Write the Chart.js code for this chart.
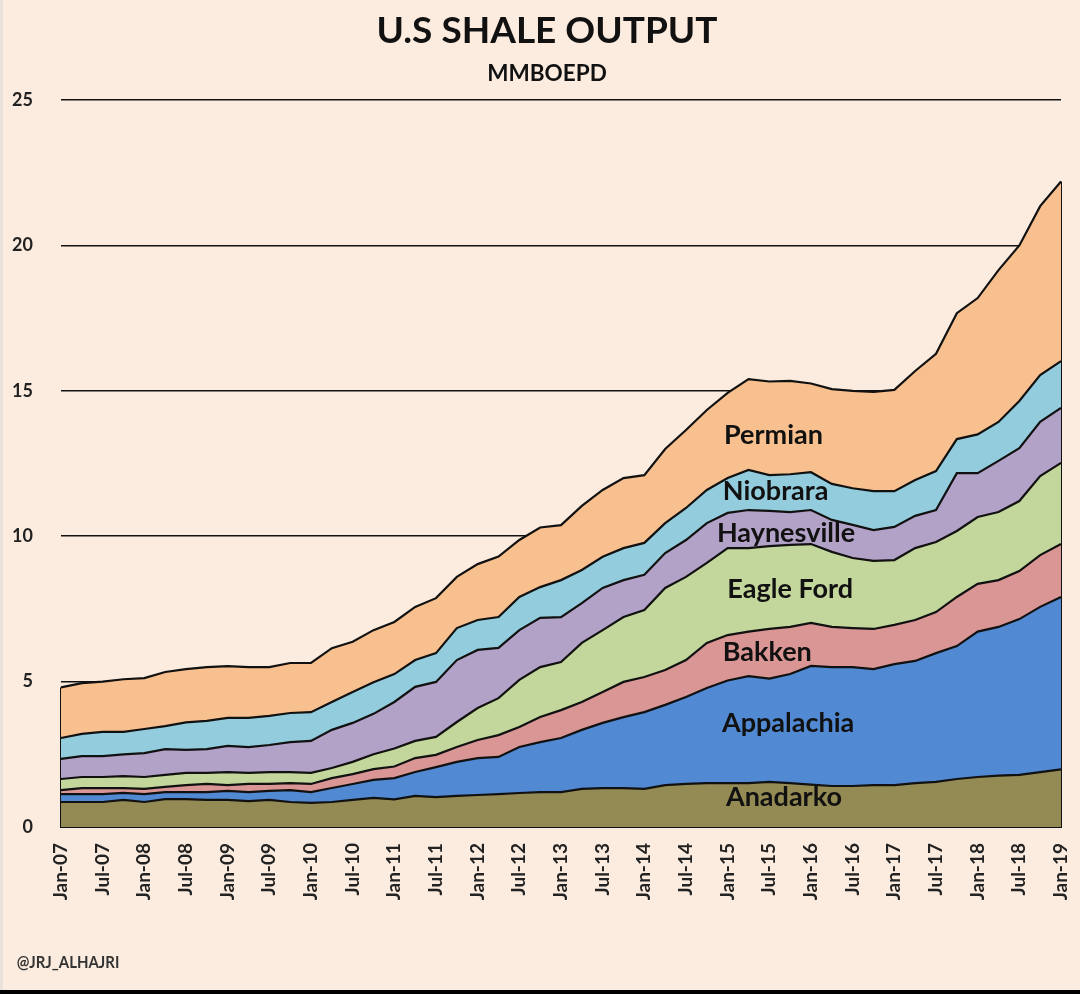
<!DOCTYPE html>
<html>
<head>
<meta charset="utf-8">
<title>U.S Shale Output</title>
<script src="https://cdn.jsdelivr.net/npm/chart.js@4"></script>
<style>
  html, body { margin: 0; padding: 0; background: #fcecdf; }
  #page { position: relative; width: 1080px; height: 994px; overflow: hidden; font-family: Lato, sans-serif; font-weight: 700; color: #111; }
  #page canvas { position: absolute; left: 0; top: 0; }
  .txt { position: absolute; white-space: nowrap; transform: translate(-50%, -50%); }
  #title { left: 547px; top: 28px; font-size: 37px; }
  #subtitle { left: 547px; top: 72px; font-size: 22.5px; }
  #credit { left: 68px; top: 961px; font-size: 17px; color: #333; transform: translate(-50%, -50%) scaleX(0.88); }
  #edge { position: absolute; left: 0; right: 0; bottom: 0; height: 4px; background: #000; }
  #leftEdge { position: absolute; left: 0; top: 0; bottom: 0; width: 3px; background: #e9e2dc; }
</style>
</head>
<body>
<div id="page">
  <canvas id="chart" width="1080" height="994"></canvas>
  <div class="txt" id="title">U.S SHALE OUTPUT</div>
  <div class="txt" id="subtitle">MMBOEPD</div>
  <div class="txt" id="credit">@JRJ_ALHAJRI</div>
  <div id="leftEdge"></div>
  <div id="edge"></div>
</div>
<script>
  const quarters = [
    "Jan-07", "Apr-07", "Jul-07", "Oct-07", "Jan-08", "Apr-08", "Jul-08", "Oct-08",
    "Jan-09", "Apr-09", "Jul-09", "Oct-09", "Jan-10", "Apr-10", "Jul-10", "Oct-10",
    "Jan-11", "Apr-11", "Jul-11", "Oct-11", "Jan-12", "Apr-12", "Jul-12", "Oct-12",
    "Jan-13", "Apr-13", "Jul-13", "Oct-13", "Jan-14", "Apr-14", "Jul-14", "Oct-14",
    "Jan-15", "Apr-15", "Jul-15", "Oct-15", "Jan-16", "Apr-16", "Jul-16", "Oct-16",
    "Jan-17", "Apr-17", "Jul-17", "Oct-17", "Jan-18", "Apr-18", "Jul-18", "Oct-18",
    "Jan-19",
  ];

  // Top edge of each stacked band (MMBOEPD)
  const anadarko = [
    0.86, 0.86, 0.86, 0.93, 0.86, 0.96, 0.96, 0.93, 0.93, 0.89, 0.93, 0.86, 0.83, 0.86, 0.93, 1.0, 0.95,
    1.07, 1.03, 1.07, 1.1, 1.13, 1.17, 1.2, 1.2, 1.31, 1.34, 1.34, 1.31, 1.44, 1.48, 1.51, 1.51,
    1.51, 1.55, 1.51, 1.46, 1.41, 1.41, 1.44, 1.44, 1.51, 1.55, 1.65, 1.72, 1.77, 1.79, 1.89, 1.98,
  ];
  const appalachia = [
    1.13, 1.13, 1.13, 1.17, 1.13, 1.2, 1.2, 1.2, 1.24, 1.2, 1.24, 1.27, 1.2, 1.34, 1.48, 1.62, 1.68,
    1.89, 2.06, 2.24, 2.37, 2.41, 2.75, 2.92, 3.06, 3.34, 3.58, 3.78, 3.95, 4.2, 4.47, 4.78, 5.04,
    5.19, 5.1, 5.26, 5.54, 5.5, 5.5, 5.43, 5.6, 5.71, 5.98, 6.22, 6.72, 6.88, 7.15, 7.57, 7.91,
  ];
  const bakken = [
    1.27, 1.34, 1.34, 1.34, 1.31, 1.38, 1.44, 1.48, 1.44, 1.48, 1.48, 1.51, 1.48, 1.68, 1.82, 1.99, 2.08,
    2.37, 2.48, 2.75, 2.99, 3.16, 3.44, 3.78, 4.02, 4.3, 4.64, 4.99, 5.16, 5.4, 5.74, 6.33, 6.6,
    6.72, 6.81, 6.88, 7.02, 6.88, 6.84, 6.81, 6.95, 7.12, 7.39, 7.91, 8.36, 8.49, 8.8, 9.35, 9.73,
  ];
  const eagleFord = [
    1.65, 1.72, 1.72, 1.75, 1.72, 1.79, 1.86, 1.86, 1.89, 1.86, 1.89, 1.89, 1.86, 2.03, 2.24, 2.5, 2.7,
    2.96, 3.1, 3.61, 4.09, 4.43, 5.06, 5.5, 5.67, 6.33, 6.77, 7.22, 7.46, 8.22, 8.6, 9.08, 9.59,
    9.59, 9.66, 9.7, 9.73, 9.46, 9.25, 9.15, 9.18, 9.59, 9.8, 10.18, 10.66, 10.83, 11.21, 12.07, 12.52,
  ];
  const haynesville = [
    2.34, 2.44, 2.44, 2.5, 2.54, 2.68, 2.65, 2.68, 2.79, 2.75, 2.82, 2.92, 2.96, 3.34, 3.58, 3.89, 4.3,
    4.82, 4.99, 5.74, 6.09, 6.16, 6.77, 7.19, 7.22, 7.7, 8.22, 8.49, 8.67, 9.42, 9.87, 10.45, 10.8,
    10.9, 10.87, 10.83, 10.9, 10.56, 10.39, 10.21, 10.32, 10.7, 10.9, 12.17, 12.17, 12.59, 13.03, 13.93, 14.41,
  ];
  const niobrara = [
    3.06, 3.2, 3.27, 3.27, 3.37, 3.47, 3.6, 3.65, 3.75, 3.75, 3.82, 3.92, 3.95, 4.3, 4.64, 4.98, 5.26,
    5.74, 5.98, 6.84, 7.12, 7.22, 7.91, 8.25, 8.49, 8.84, 9.29, 9.59, 9.77, 10.45, 10.97, 11.59, 12.0,
    12.28, 12.1, 12.13, 12.2, 11.8, 11.65, 11.55, 11.55, 11.93, 12.24, 13.34, 13.5, 13.93, 14.65, 15.54, 16.02,
  ];
  const permian = [
    4.8, 4.95, 5.0, 5.08, 5.12, 5.33, 5.43, 5.5, 5.53, 5.5, 5.5, 5.64, 5.64, 6.15, 6.37, 6.77, 7.05,
    7.57, 7.87, 8.6, 9.04, 9.3, 9.87, 10.3, 10.38, 11.04, 11.59, 12.0, 12.1, 13.0, 13.65, 14.34, 14.93,
    15.4, 15.32, 15.34, 15.25, 15.06, 15.0, 14.96, 15.03, 15.68, 16.27, 17.67, 18.19, 19.15, 20.0, 21.35, 22.2,
  ];

  const bandNames = ["Anadarko", "Appalachia", "Bakken", "Eagle Ford", "Haynesville", "Niobrara", "Permian"];
  const bandValues = [anadarko, appalachia, bakken, eagleFord, haynesville, niobrara, permian];
  const bandColors = ["#948a54", "#5189d3", "#d99694", "#c3d69b", "#b3a2c7", "#93cddd", "#f9c08f"];

  // Where each name sits, in axis units (quarter index, MMBOEPD)
  const nameIndex = [34.7, 34.9, 33.9, 35, 34.8, 34.3, 34.2];
  const nameValue = [1.03, 3.55, 6.02, 8.18, 10.11, 11.55, 13.48];

  const OUTLINE = "#111";

  const bandDatasets = bandNames.map((name, i) => ({
    label: name,
    data: bandValues[i],
    fill: i === 0 ? "origin" : "-1",
    backgroundColor: bandColors[i],
    borderColor: OUTLINE,
    borderWidth: 2.2,
    tension: 0,
    pointRadius: 0,
  }));

  // Closes the stack on its left and right sides
  const sideLine = (label, top) => ({
    label: label + " edge",
    data: [{ x: label, y: 0 }, { x: label, y: top }],
    fill: false,
    borderColor: OUTLINE,
    borderWidth: 2.2,
    pointRadius: 0,
  });

  const bandNamesPlugin = {
    id: "bandNames",
    afterDatasetsDraw(chart) {
      const { ctx, scales } = chart;
      ctx.save();
      ctx.font = "700 27px Lato, sans-serif";
      ctx.fillStyle = "#111";
      ctx.textAlign = "center";
      ctx.textBaseline = "middle";
      bandNames.forEach((name, i) => {
        ctx.fillText(name, scales.x.getPixelForValue(nameIndex[i]), scales.y.getPixelForValue(nameValue[i]));
      });
      ctx.restore();
    },
  };

  new Chart(document.getElementById("chart"), {
    type: "line",
    data: {
      labels: quarters,
      datasets: [
        ...bandDatasets,
        sideLine(quarters[0], permian[0]),
        sideLine(quarters[quarters.length - 1], permian[permian.length - 1]),
      ],
    },
    plugins: [bandNamesPlugin],
    options: {
      responsive: false,
      animation: false,
      layout: { padding: { top: 100, right: 19, left: 0, bottom: 0 } },
      plugins: { legend: { display: false }, tooltip: { enabled: false } },
      scales: {
        x: {
          grid: { display: false },
          border: { color: OUTLINE, width: 2 },
          afterFit: (scale) => {
            // rotated labels otherwise push the plot in from the right
            scale.height = 167;
            scale.paddingLeft = 0;
            scale.paddingRight = 0;
          },
          ticks: {
            autoSkip: false,
            minRotation: 90,
            maxRotation: 90,
            padding: 8,
            color: "#222",
            font: { family: "Lato", weight: "700", size: 19 },
            callback: (value, index) => (index % 2 === 0 ? quarters[index] : null),
          },
        },
        y: {
          min: 0,
          max: 25,
          afterFit: (scale) => { scale.width = 61; },
          grid: { color: OUTLINE, lineWidth: 1.6, drawTicks: false },
          border: { display: false },
          ticks: {
            stepSize: 5,
            padding: 28,
            color: "#222",
            font: { family: "Lato", weight: "700", size: 18 },
          },
        },
      },
    },
  });
</script>
</body>
</html>
